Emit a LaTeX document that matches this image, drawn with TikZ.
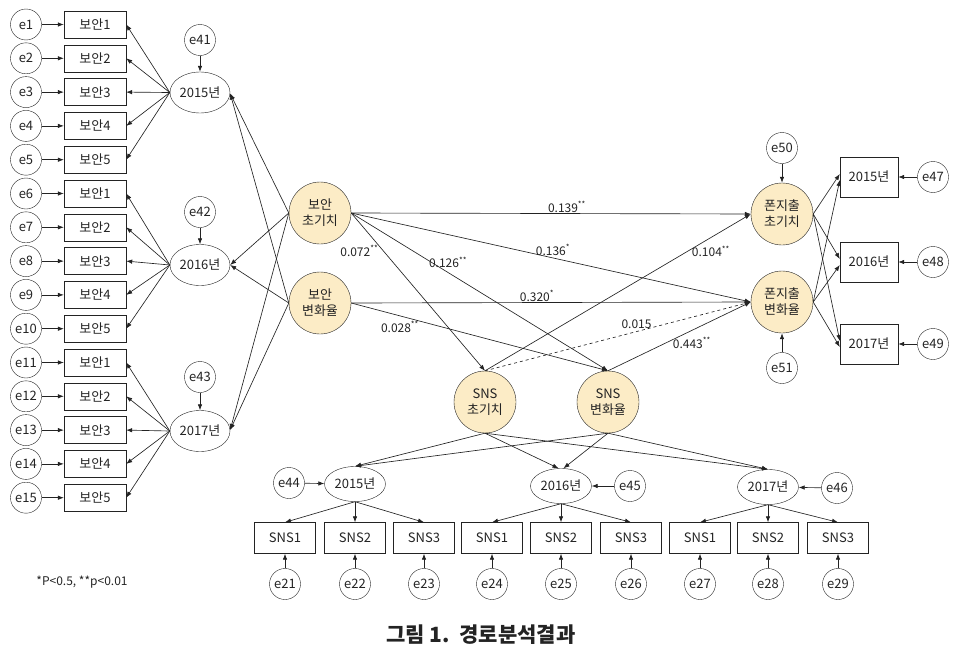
\documentclass[tikz,border=0pt]{standalone}
\usepackage{fontspec}
\setmainfont{Noto Sans CJK KR}
\usetikzlibrary{shapes.geometric,arrows.meta,calc}
\definecolor{facfill}{RGB}{252,236,198}
\definecolor{ink}{RGB}{35,35,35}
\begin{document}
\begin{tikzpicture}[x=1pt,y=-1pt,
  every node/.style={text=ink},
  font=\fontsize{13}{15}\selectfont,
  err/.style={circle,draw=ink,minimum size=31pt,inner sep=0pt},
  obs/.style={rectangle,draw=ink,minimum width=62pt,minimum height=27pt,inner sep=0pt},
  sns/.style={rectangle,draw=ink,minimum width=61pt,minimum height=31pt,inner sep=0pt},
  yr/.style={rectangle,draw=ink,minimum width=58pt,minimum height=40pt,inner sep=0pt},
  lat/.style={ellipse,draw=ink,minimum width=60pt,minimum height=41pt,inner sep=0pt},
  slat/.style={ellipse,draw=ink,minimum width=61pt,minimum height=35pt,inner sep=0pt},
  fac/.style={circle,draw=ink,fill=facfill,minimum size=62pt,inner sep=0pt,align=center,font=\fontsize{13}{16}\selectfont},
  arr/.style={draw=ink,-{Latex[length=6pt,width=4.5pt]},line width=0.65pt},
  lbl/.style={font=\fontsize{12}{14}\selectfont,inner sep=1pt},
]
\useasboundingbox (0,0) rectangle (970,653);

% ---------- left indicators ----------
\foreach \i in {1,...,15} {
  \pgfmathsetmacro\yy{24.5+33.8*(\i-1)}
  \pgfmathtruncatemacro\k{mod(\i-1,5)+1}
  \node[err] (e\i) at (26,\yy) {e\i};
  \node[obs] (v\i) at (95,\yy) {보안\k};
  \draw[arr] (e\i) -- (v\i);
}

\node[lat] (L1) at (200,92.5) {2015년};
\node[lat] (L2) at (200,265) {2016년};
\node[lat] (L3) at (200,431) {2017년};
\node[err] (e41) at (200,40) {e41};
\node[err] (e42) at (200,212) {e42};
\node[err] (e43) at (200,377) {e43};
\draw[arr] (e41) -- (L1);
\draw[arr] (e42) -- (L2);
\draw[arr] (e43) -- (L3);

\foreach \i in {1,...,5} {\draw[arr] (L1.west) -- (v\i.east);}
\foreach \i in {6,...,10} {\draw[arr] (L2.west) -- (v\i.east);}
\foreach \i in {11,...,15} {\draw[arr] (L3.west) -- (v\i.east);}

% ---------- factors ----------
\node[fac] (B1) at (320,213) {보안\\초기치};
\node[fac] (B2) at (320,303) {보안\\변화율};
\node[fac] (S1) at (485,402) {SNS\\초기치};
\node[fac] (S2) at (608,402) {SNS\\변화율};
\node[fac] (F1) at (782,214) {폰지출\\초기치};
\node[fac] (F2) at (782,302) {폰지출\\변화율};

\foreach \b in {B1,B2} {
  \draw[arr] (\b.west) -- ($(L1.east)+(0,1)$);
  \draw[arr] (\b.west) -- (L2.east);
  \draw[arr] (\b.west) -- ($(L3.east)+(0,-1)$);
}

% ---------- structural paths ----------
\draw[arr] (B1.east) -- node[lbl,pos=.54,above]{0.139\textsuperscript{**}} (F1.west);
\draw[arr] (B1.east) -- node[lbl,pos=.505,yshift=8pt]{0.136\textsuperscript{*}} (F2.west);
\draw[arr] (B1.east) -- node[lbl,pos=.24,xshift=-24pt]{0.072\textsuperscript{**}} (S1.north);
\draw[arr] (B1.east) -- node[lbl,pos=.377,yshift=10pt]{0.126\textsuperscript{**}} (S2.north);
\draw[arr] (B2.east) -- node[lbl,pos=.465,above]{0.320\textsuperscript{*}} (F2.west);
\draw[arr] (B2.east) -- node[lbl,pos=.19,yshift=-11pt]{0.028\textsuperscript{**}} (S2.north);
\draw[arr] (S1.north) -- node[lbl,pos=.85,yshift=-14pt]{0.104\textsuperscript{**}} (F1.west);
\draw[arr,dashed] (S1.north) -- node[lbl,pos=.57,yshift=7pt]{0.015} (F2.west);
\draw[arr] (S2.north) -- node[lbl,pos=.587,yshift=-12.5pt]{0.443\textsuperscript{**}} (F2.west);

% ---------- right side ----------
\node[err] (e50) at (782,148) {e50};
\node[err] (e51) at (782,368) {e51};
\draw[arr] (e50) -- (F1);
\draw[arr] (e51) -- (F2);
\node[yr] (R1) at (869,177) {2015년};
\node[yr] (R2) at (869,262) {2016년};
\node[yr] (R3) at (869,344) {2017년};
\node[err] (e47) at (933,177) {e47};
\node[err] (e48) at (933,262) {e48};
\node[err] (e49) at (933,344) {e49};
\draw[arr] (e47) -- (R1);
\draw[arr] (e48) -- (R2);
\draw[arr] (e49) -- (R3);
\foreach \r in {R1,R2,R3} {
  \draw[arr] (F1.east) -- ($(\r.west)+(0,-3)$);
  \draw[arr] (F2.east) -- ($(\r.west)+(0,3)$);
}

% ---------- bottom SNS ----------
\node[slat] (T1) at (355,484) {2015년};
\node[slat] (T2) at (561,486) {2016년};
\node[slat] (T3) at (768,487) {2017년};
\node[err] (e44) at (289,483) {e44};
\node[err] (e45) at (630,486) {e45};
\node[err] (e46) at (837,488) {e46};
\draw[arr] (e44) -- (T1);
\draw[arr] (e45) -- (T2);
\draw[arr] (e46) -- (T3);

\foreach \s/\d in {S1/-2.5,S2/2.5} {
  \draw[arr] (\s.south) -- (T1.north);
  \draw[arr] (\s.south) -- ($(T2.north)+(\d,0)$);
  \draw[arr] (\s.south) -- (T3.north);
}

\foreach \j/\x/\k/\t in {1/285/1/T1,2/355/2/T1,3/424/3/T1,4/492/1/T2,5/561/2/T2,6/631/3/T2,7/700/1/T3,8/768/2/T3,9/838/3/T3} {
  \pgfmathtruncatemacro\en{20+\j}
  \node[sns] (n\j) at (\x,538) {SNS\k};
  \node[err] (e\en) at (\x,584) {e\en};
  \draw[arr] (e\en) -- (n\j);
  \draw[arr] (\t.south) -- (n\j.north);
}

% ---------- notes ----------
\node[font=\fontsize{12}{14}\selectfont] (note) at (82,582) {*P<0.5, **p<0.01};
\node[font=\bfseries\fontsize{21}{24}\selectfont] (title) at (481,635) {그림 1.\ \ 경로분석결과};
\end{tikzpicture}
\end{document}
